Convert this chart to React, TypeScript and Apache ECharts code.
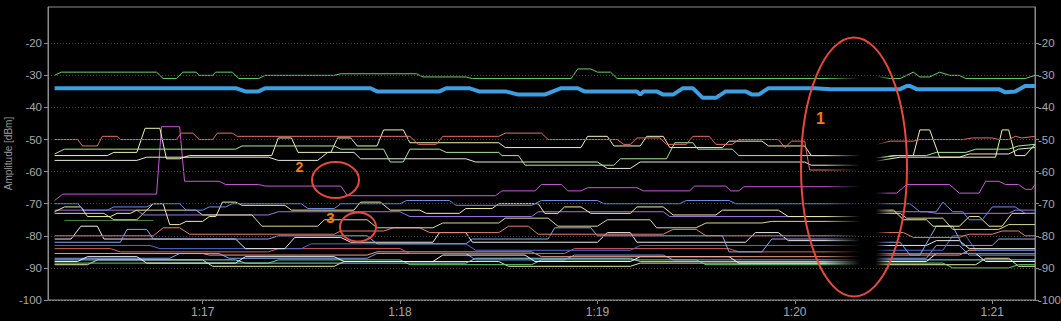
import React, { useEffect, useRef } from 'react';
import * as echarts from 'echarts';

type Pt = [number, number];

// time axis: seconds after 1:00 (1020 = 1:17)
const timeMin = 973;
const timeMax = 1273;
const timeTicks = [1020, 1080, 1140, 1200, 1260];
const ampMin = -100;
const ampMax = -8.7;
const ampTicks = [-100, -90, -80, -70, -60, -50, -40, -30, -20];
// data drop-out (lines fade out / in)
const gapFade = [1209, 1220, 1224.5, 1229];

const greenTop: Pt[] = [[975,-30],[977,-29],[1006,-29],[1008,-31],[1012,-31],[1014,-29],[1018,-29],[1019,-30],[1023,-30],[1024,-29],[1029,-29],[1031,-31],[1037,-31],[1039,-30],[1060,-30],[1062,-29.5],[1085,-29.5],[1087,-30.5],[1100,-30.5],[1102,-31],[1132,-31],[1134,-28],[1138,-28],[1140,-29],[1144,-29],[1146,-31],[1221,-31],[1223,-30],[1229,-31],[1232,-31],[1236,-29],[1238,-30.5],[1241,-30.5],[1244,-29],[1247,-30],[1250,-30],[1252,-31],[1270,-31],[1273,-30]];

const blueMain: Pt[] = [[975,-34],[1030,-34],[1033,-35],[1037,-35],[1039,-34],[1071,-34],[1073,-35],[1092,-35],[1094,-34],[1101,-34],[1104,-35],[1112,-35],[1116,-36],[1124,-36],[1129,-34],[1134,-34],[1136,-35],[1152,-35],[1153,-36],[1154,-35],[1158,-35],[1160,-36],[1163,-36],[1166,-34],[1169,-34],[1172,-37],[1176,-37],[1179,-35],[1185,-35],[1187,-36],[1189,-36],[1192,-34],[1206,-34],[1211,-34.3],[1232,-34.3],[1234,-33.3],[1235,-33.3],[1237,-34.3],[1262,-34.3],[1264,-35.3],[1267,-35],[1270,-33.3],[1273,-33.3]];

const salmon50: Pt[] = [[975,-50],[982,-50],[983.5,-52],[988,-52],[989.5,-49],[994,-49],[995,-50],[1012,-50],[1013.5,-48],[1017,-48],[1019,-50],[1023,-50],[1024.5,-48],[1029,-48],[1030.5,-49],[1083,-49],[1085.5,-51.5],[1091,-51.5],[1093,-49],[1110,-49],[1112,-48],[1123,-48],[1125,-50],[1146,-50],[1148,-51.5],[1150,-51.5],[1152,-49.5],[1159,-49.5],[1161,-51.5],[1167,-51.5],[1169,-49],[1174,-49],[1176,-51.5],[1181,-51.5],[1183,-50],[1195,-50],[1197,-52.5],[1199,-50.5],[1203,-50.5],[1204.5,-59.5],[1221,-59.5],[1223,-52],[1229,-50.5],[1236,-50.5],[1238,-50],[1251,-50],[1254,-49.5],[1260,-49.5],[1262,-50],[1265,-50],[1267,-49],[1269,-49.5],[1273,-49]];

const lightGreen53: Pt[] = [[975,-54.5],[978,-53],[1030,-53],[1032,-52],[1060,-52],[1062,-53],[1075,-53],[1077,-57],[1081,-57],[1083,-53],[1092,-53],[1094,-54],[1110,-54],[1111,-55],[1116,-55],[1118,-58],[1145,-58],[1147,-56],[1161,-56],[1163.5,-51],[1169,-51],[1170.5,-53],[1181,-53],[1183,-55],[1221,-55],[1223,-56],[1230,-55],[1240,-55],[1243,-54],[1252,-54],[1255,-53],[1265,-53],[1268,-52],[1273,-51.5]];

const pale55: Pt[] = [[975,-55],[991,-55],[993,-54],[1000,-54],[1002.5,-46.5],[1007,-46.5],[1009,-56],[1013,-56],[1016,-55],[1041,-55],[1043,-49.5],[1047,-49.5],[1049,-54],[1059,-54],[1061,-49.5],[1065,-49.5],[1067,-52],[1073,-52],[1075,-47],[1081,-47],[1083,-51],[1110,-51],[1112,-52.5],[1135,-52.5],[1137,-49],[1143,-49],[1145,-52],[1153,-52],[1155,-49],[1160,-49],[1162,-52.5],[1178,-52.5],[1180,-50.5],[1190,-50.5],[1192,-52],[1203,-52],[1205,-55],[1221,-55],[1223,-56],[1231,-55],[1236,-55],[1238,-47],[1241,-47],[1244,-55.5],[1261,-55.5],[1263,-47],[1265,-47],[1267,-55],[1270,-55],[1273,-51.5]];

const white57: Pt[] = [[975,-56.5],[1000,-56.5],[1003,-55.5],[1040,-55.5],[1043,-56.5],[1055,-56.5],[1058,-54],[1066,-54],[1068,-56],[1100,-56],[1103,-57],[1140,-57],[1143,-59],[1150,-59],[1153,-57],[1203,-57],[1205,-58],[1221,-58],[1223,-57],[1232,-55.5],[1250,-55.5],[1253,-54.5],[1265,-54.5],[1268,-53],[1273,-52.5]];

const magenta: Pt[] = [[975,-69],[977.5,-67],[1006,-67],[1007.5,-46],[1013,-46],[1014.5,-63],[1025,-63],[1027,-64],[1037,-64],[1039,-64.5],[1062,-64.5],[1064,-67.5],[1109,-67.5],[1111,-66],[1121,-66],[1123,-64],[1129,-64],[1131,-66],[1135,-66],[1137,-65],[1152,-65],[1154,-66],[1168,-66],[1169.5,-64.5],[1179,-64.5],[1180.5,-66],[1183,-66],[1184.5,-64.7],[1221,-64.7],[1223,-66.7],[1231,-66.7],[1234,-64],[1247,-64],[1250,-66.7],[1256,-66.7],[1258,-63],[1262,-63],[1264,-64],[1268,-64],[1270,-65.5],[1272,-65.5],[1273,-64]];

const blue70: Pt[] = [[975,-70],[982,-70],[984,-72],[991,-72],[993,-71],[1003,-71],[1005,-70],[1013,-70],[1015,-72],[1020,-72],[1022,-71],[1027,-71],[1029,-70],[1050,-70],[1052,-71.5],[1060,-71.5],[1062,-70],[1080,-70],[1082,-69],[1095,-69],[1097,-70.5],[1120,-70.5],[1123,-69],[1140,-69],[1142,-70],[1165,-70],[1167,-69],[1180,-69],[1182,-70],[1221,-70],[1223,-70],[1235,-70],[1238,-72.5],[1243,-72.5],[1245,-69.5],[1248,-72.5],[1251,-72.5],[1253,-75],[1257,-75],[1260,-71],[1267,-71],[1270,-73],[1273,-73]];

const pale70: Pt[] = [[975,-72.5],[978,-71],[983,-71],[985,-74],[992,-74],[994,-73],[998,-73],[1000,-72],[1003,-72],[1005,-70],[1008,-70],[1010,-76.5],[1013,-76.5],[1015,-75.5],[1020,-75.5],[1022,-74],[1024,-74],[1026,-69.5],[1030,-69.5],[1032,-70.5],[1045,-70.5],[1047,-72],[1066,-72],[1068,-69.5],[1074,-69.5],[1077,-72],[1086,-72],[1088,-73],[1098,-73],[1100,-71.5],[1108,-71.5],[1110,-70],[1122,-70],[1124,-73],[1128,-73],[1130,-71],[1135,-71],[1138,-73],[1150,-73],[1152,-71],[1160,-71],[1163,-73.5],[1176,-73.5],[1178,-72],[1195,-72],[1198,-74],[1221,-74],[1223,-72],[1230,-72],[1233,-75],[1240,-75],[1242,-77],[1250,-77],[1253,-74],[1256,-74],[1259,-77],[1263,-77],[1266,-73],[1273,-73]];

const pale73: Pt[] = [[975,-73],[990,-73],[993,-75],[1000,-75],[1003,-72],[1018,-72],[1020,-73.5],[1035,-73.5],[1038,-77],[1055,-77],[1057,-75],[1070,-75],[1073,-77.5],[1090,-77.5],[1093,-76],[1110,-76],[1112,-74.5],[1125,-74.5],[1128,-77],[1140,-77],[1143,-75],[1156,-75],[1158,-77.5],[1170,-77.5],[1173,-76],[1190,-76],[1193,-75.5],[1221,-75.5],[1223,-73],[1232,-73],[1234,-74.5],[1245,-74.5],[1248,-78],[1262,-78],[1265,-76.5],[1273,-76.5]];

const dimGreen75: Pt[] = [[978,-75.2],[1005,-75.2]];

const violet72: Pt[] = [[975,-72],[1000,-72],[1002,-73.5],[1040,-73.5],[1043,-72.5],[1080,-72.5],[1083,-74],[1120,-74],[1122,-72.5],[1160,-72.5],[1162,-74],[1221,-74],[1223,-72.5],[1240,-72.5],[1243,-73],[1265,-73],[1267,-72],[1273,-72]];

const salmon80: Pt[] = [[975,-80],[1005,-80],[1008,-77.5],[1013,-77.5],[1016,-79.5],[1060,-79.5],[1062,-78.5],[1075,-78.5],[1078,-77.5],[1086,-77.5],[1089,-79],[1110,-79],[1113,-77],[1119,-77],[1122,-79.5],[1160,-79.5],[1163,-78],[1170,-78],[1173,-80],[1221,-80],[1223,-79],[1233,-79],[1236,-80.5],[1250,-80.5],[1253,-79.5],[1260,-79.5],[1263,-78.5],[1268,-78.5],[1270,-80],[1273,-80]];

const lightBlue81: Pt[] = [[975,-82],[995,-82],[997,-78],[1003,-78],[1005,-81],[1040,-81],[1043,-80],[1070,-80],[1073,-82.5],[1100,-82.5],[1102,-81],[1125,-81],[1127,-77.5],[1138,-77.5],[1140,-80],[1178,-80],[1180,-85],[1190,-85],[1193,-81],[1221,-81],[1223,-82],[1232,-82],[1235,-86],[1238,-86],[1243,-77],[1248,-77],[1251,-83],[1260,-83],[1262,-81],[1273,-81]];

const white81: Pt[] = [[975,-81],[980,-81],[983,-77],[988,-77],[990,-81],[1030,-81],[1033,-84],[1045,-84],[1048,-80.5],[1062,-80.5],[1065,-82],[1090,-82],[1092,-79],[1100,-79],[1102,-82],[1140,-82],[1143,-79],[1150,-79],[1152,-82],[1185,-82],[1188,-79],[1195,-79],[1198,-81.5],[1221,-81.5],[1223,-83],[1240,-83],[1243,-81.5],[1250,-81.5],[1253,-84],[1273,-84]];

const blue83: Pt[] = [[975,-83],[1004,-83],[1007,-84],[1050,-84],[1053,-82.5],[1100,-82.5],[1103,-84.5],[1150,-84.5],[1153,-83],[1221,-83],[1223,-84.5],[1245,-84.5],[1248,-80],[1252,-80],[1255,-84.5],[1273,-84.5]];

const red85: Pt[] = [[975,-84],[992,-84],[995,-85],[1040,-85],[1043,-84],[1080,-84],[1083,-85.5],[1130,-85.5],[1133,-84],[1180,-84],[1183,-85],[1221,-85],[1223,-85.5],[1273,-85.5]];

const salmon86: Pt[] = [[975,-85.5],[1020,-85.5],[1022,-86],[1070,-86],[1073,-85],[1120,-85],[1123,-86.5],[1221,-86.5],[1223,-86],[1250,-86],[1253,-84.5],[1273,-84.5]];

const white87: Pt[] = [[975,-88],[982,-88],[985,-86.5],[1000,-86.5],[1003,-88.5],[1030,-88.5],[1033,-86.5],[1060,-86.5],[1063,-88],[1090,-88],[1093,-86],[1118,-86],[1121,-88],[1150,-88],[1153,-86.5],[1180,-86.5],[1183,-88.5],[1221,-88.5],[1223,-88],[1240,-88],[1243,-85.5],[1255,-85.5],[1258,-88],[1273,-88]];

const blue87: Pt[] = [[975,-87],[1010,-87],[1013,-85.5],[1025,-85.5],[1028,-87],[1070,-87],[1073,-85.5],[1100,-85.5],[1103,-87.5],[1130,-87.5],[1133,-86],[1160,-86],[1163,-87.5],[1221,-87.5],[1223,-87],[1240,-87],[1243,-83],[1250,-83],[1253,-86],[1273,-86]];

const cyan88: Pt[] = [[975,-87.5],[1030,-87.5],[1033,-88.5],[1100,-88.5],[1103,-87],[1150,-87],[1153,-88],[1221,-88],[1223,-87.5],[1273,-87.5]];

const green88: Pt[] = [[975,-88.5],[1040,-88.5],[1043,-87.5],[1080,-87.5],[1083,-89],[1120,-89],[1123,-87.5],[1170,-87.5],[1173,-89],[1221,-89],[1223,-88.5],[1245,-88.5],[1248,-90],[1265,-90],[1268,-89],[1273,-89]];

const pale89: Pt[] = [[975,-89],[985,-89],[988,-87.5],[1020,-87.5],[1023,-89.5],[1060,-89.5],[1063,-88],[1110,-88],[1113,-89.5],[1150,-89.5],[1153,-88.5],[1221,-88.5],[1223,-89],[1255,-89],[1258,-87],[1265,-87],[1268,-89.5],[1273,-89.5]];

const traces: { data: Pt[]; color: string; width: number; z: number }[] = [
  { data: pale89, color: '#e6e8a8', width: 1, z: 2 },
  { data: green88, color: '#6cd46c', width: 1, z: 2 },
  { data: cyan88, color: '#86d4e6', width: 1, z: 2 },
  { data: blue87, color: '#7aa2f0', width: 1, z: 2 },
  { data: white87, color: '#f4f4f4', width: 1, z: 2 },
  { data: salmon86, color: '#f0a08a', width: 1, z: 2 },
  { data: red85, color: '#dc6060', width: 1, z: 2 },
  { data: blue83, color: '#4e6ed6', width: 1, z: 2 },
  { data: white81, color: '#eaeaea', width: 1, z: 2 },
  { data: lightBlue81, color: '#86a8ee', width: 1, z: 2 },
  { data: salmon80, color: '#e4806e', width: 1, z: 2 },
  { data: violet72, color: '#a274e2', width: 1, z: 2 },
  { data: dimGreen75, color: '#4c8a4c', width: 1, z: 2 },
  { data: pale73, color: '#d8d89a', width: 1, z: 2 },
  { data: pale70, color: '#efeca6', width: 1, z: 2 },
  { data: blue70, color: '#6b8de6', width: 1, z: 2 },
  { data: magenta, color: '#c65ad8', width: 1, z: 2 },
  { data: white57, color: '#e8e8d8', width: 1, z: 2 },
  { data: pale55, color: '#f0f2b4', width: 1, z: 2 },
  { data: lightGreen53, color: '#a8e89a', width: 1, z: 2 },
  { data: salmon50, color: '#e07068', width: 1, z: 2 },
  { data: greenTop, color: '#6ccf6c', width: 1, z: 2 },
  { data: blueMain, color: '#3d9fe0', width: 4, z: 5 },
];

const FONT = 'Arial, "Liberation Sans", sans-serif';
const AXIS_COLOR = '#8c8c8c';
const LABEL_COLOR = '#a8a8a8';

export default function App() {
  const ref = useRef<HTMLDivElement>(null);
  useEffect(() => {
    if (!ref.current) return;
    const chart = echarts.init(ref.current, undefined, { renderer: 'svg' });
    const yAxisBase = {
      type: 'value',
      min: ampMin,
      max: ampMax,
      axisLine: { show: true, lineStyle: { color: AXIS_COLOR, width: 1 } },
      axisTick: { show: true, customValues: ampTicks, length: 4, lineStyle: { color: AXIS_COLOR } },
    };
    const yLabel = { customValues: ampTicks, color: LABEL_COLOR, fontSize: 11.5, fontFamily: FONT };
    const option: any = {
      animation: false,
      backgroundColor: '#000',
      grid: {
        left: 48, right: 26, top: 7, bottom: 21,
        outerBoundsMode: 'none', containLabel: false,
        show: true, borderColor: AXIS_COLOR, borderWidth: 1, backgroundColor: 'transparent',
      },
      xAxis: {
        type: 'value',
        min: timeMin,
        max: timeMax,
        axisLine: { show: true, lineStyle: { color: AXIS_COLOR } },
        axisTick: { show: true, customValues: timeTicks, length: 4, lineStyle: { color: AXIS_COLOR } },
        axisLabel: {
          customValues: timeTicks,
          color: LABEL_COLOR,
          fontSize: 12,
          fontFamily: FONT,
          margin: 6,
          formatter: (v: number) => `1:${Math.round(v / 60)}`,
        },
        splitLine: { show: false },
      },
      yAxis: [
        {
          ...yAxisBase,
          position: 'left',
          z: 4,
          axisLabel: { ...yLabel, margin: 6 },
          splitLine: { show: true, customValues: ampTicks, lineStyle: { color: '#4a4a4a', type: [1, 2], width: 1 } },
          name: 'Amplitude [dBm]',
          nameLocation: 'middle',
          nameGap: 35,
          nameMoveOverlap: false,
          nameTextStyle: { color: '#9a9a9a', fontSize: 10, fontFamily: FONT },
        },
        { ...yAxisBase, position: 'right', axisLabel: { ...yLabel, margin: 3 }, splitLine: { show: false } },
      ],
      series: traces.map((t, i) => ({
        type: 'line',
        name: `trace${i}`,
        data: t.data,
        showSymbol: false,
        symbol: 'none',
        silent: true,
        z: t.z,
        lineStyle: { color: t.color, width: t.width },
        itemStyle: { color: t.color },
        clip: true,
      })),
    };
    chart.setOption(option);

    const px = (t: number) => chart.convertToPixel({ xAxisIndex: 0 }, t) as number;
    const py = (v: number) => chart.convertToPixel({ yAxisIndex: 0 }, v) as number;
    const gx0 = px(gapFade[0]);
    const gx3 = px(gapFade[3]);
    const w = gx3 - gx0;
    const top = py(ampMax) + 1;
    const bottom = py(ampMin) - 1;
    const stop = (t: number) => (px(t) - gx0) / w;
    const ellStyle = { fill: 'none', stroke: '#e54a3c', lineWidth: 2 };
    const numStyle = (text: string, size: number) => ({
      text,
      fill: '#f07c1e',
      font: `bold ${size}px ${FONT}`,
      align: 'center',
      verticalAlign: 'middle',
    });
    chart.setOption({
      graphic: [
        {
          type: 'rect',
          z: 3,
          silent: true,
          shape: { x: gx0, y: top, width: w, height: bottom - top },
          style: {
            fill: new echarts.graphic.LinearGradient(0, 0, 1, 0, [
              { offset: 0, color: 'rgba(0,0,0,0)' },
              { offset: stop(gapFade[1]), color: 'rgba(0,0,0,1)' },
              { offset: stop(gapFade[2]), color: 'rgba(0,0,0,1)' },
              { offset: 1, color: 'rgba(0,0,0,0)' },
            ]),
          },
        },
        { type: 'ellipse', z: 10, silent: true, shape: { cx: 854, cy: 167, rx: 53, ry: 129.5 }, style: ellStyle },
        { type: 'ellipse', z: 10, silent: true, shape: { cx: 335.5, cy: 180, rx: 23.5, ry: 18 }, style: ellStyle },
        { type: 'ellipse', z: 10, silent: true, shape: { cx: 358, cy: 227, rx: 18, ry: 14.5 }, style: ellStyle },
        { type: 'text', z: 10, silent: true, x: 820.5, y: 118, style: numStyle('1', 16) },
        { type: 'text', z: 10, silent: true, x: 299.5, y: 166.5, style: numStyle('2', 14) },
        { type: 'text', z: 10, silent: true, x: 330.5, y: 217, style: numStyle('3', 15) },
      ],
    });
    return () => chart.dispose();
  }, []);
  return (
    <div
      ref={ref}
      style={{ position: 'fixed', left: 0, top: 0, width: 1061, height: 321, background: '#000' }}
    />
  );
}
